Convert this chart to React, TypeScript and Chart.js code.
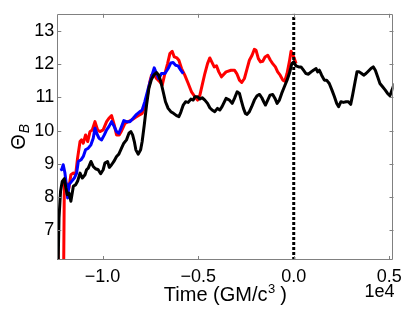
import React, { useEffect, useRef } from 'react';
import { Chart, registerables } from 'chart.js';

Chart.register(...registerables);

// Axis limits (x in units of 1e4 GM/c^3)
const X_MIN = -1.237;
const X_MAX = 0.522;
const Y_MIN = 6.1;
const Y_MAX = 13.52;
const xTicks = [-1.0, -0.5, 0.0, 0.5];
const yTicks = [7, 8, 9, 10, 11, 12, 13];
const xTitle = 'Time (GM/c';
const xTitleSup = '3';
const xTitleEnd = ' )';
const yTitle = 'Θ';
const yTitleSub = 'B';
const offsetText = '1e4';

// Red series
const redX = [-1.236, -1.228, -1.212, -1.205, -1.200, -1.176, -1.166, -1.153, -1.141, -1.131, -1.118, -1.110, -1.101, -1.089, -1.078, -1.066, -1.054, -1.040, -1.026, -1.014, -0.997, -0.979, -0.967, -0.953, -0.939, -0.927, -0.913, -0.901, -0.883, -0.866, -0.848, -0.831, -0.814, -0.793, -0.779, -0.765, -0.753, -0.744, -0.732, -0.718, -0.700, -0.688, -0.674, -0.660, -0.648, -0.636, -0.625, -0.611, -0.601, -0.587, -0.570, -0.552, -0.535, -0.517, -0.503, -0.491, -0.479, -0.465, -0.451, -0.439, -0.427, -0.416, -0.404, -0.392, -0.378, -0.354, -0.328, -0.310, -0.298, -0.284, -0.272, -0.258, -0.244, -0.232, -0.218, -0.206, -0.197, -0.185, -0.174, -0.162, -0.150, -0.136, -0.122, -0.110, -0.096, -0.084, -0.071, -0.057, -0.047, -0.035, -0.023, -0.014, -0.005, 0.003, 0.012];
const redY = [7.3, 5.0, 5.0, 5.0, 8.5, 8.27, 8.67, 8.72, 8.67, 9.17, 9.67, 9.72, 9.62, 9.87, 9.67, 9.97, 10.02, 10.27, 10.02, 9.97, 10.02, 10.27, 10.37, 10.45, 10.17, 9.87, 9.87, 9.99, 10.22, 10.27, 10.32, 10.39, 10.45, 10.52, 10.72, 11.07, 11.47, 11.67, 11.72, 11.57, 11.47, 11.37, 11.72, 12.02, 12.32, 12.39, 12.22, 12.19, 12.12, 11.87, 11.67, 11.42, 11.17, 11.02, 10.92, 11.07, 11.37, 11.72, 12.02, 12.19, 12.05, 11.92, 11.95, 11.77, 11.62, 11.77, 11.82, 11.82, 11.72, 11.52, 11.45, 11.57, 11.87, 12.12, 12.27, 12.45, 12.42, 12.17, 12.07, 12.09, 12.22, 12.27, 12.12, 12.02, 11.92, 11.77, 11.67, 11.52, 11.49, 11.72, 12.07, 12.39, 12.29, 12.17, 12.02];

// Blue series
const blueX = [-1.218, -1.214, -1.206, -1.197, -1.188, -1.183, -1.176, -1.162, -1.148, -1.136, -1.127, -1.113, -1.101, -1.089, -1.075, -1.061, -1.049, -1.040, -1.031, -1.019, -1.005, -0.991, -0.979, -0.967, -0.953, -0.939, -0.927, -0.915, -0.901, -0.889, -0.875, -0.857, -0.840, -0.822, -0.805, -0.793, -0.779, -0.761, -0.744, -0.730, -0.718, -0.706, -0.692, -0.674, -0.657, -0.643, -0.631, -0.618, -0.605, -0.591, -0.578];
const blueY = [8.87, 8.82, 8.97, 8.72, 8.27, 7.97, 8.37, 8.47, 8.57, 8.72, 9.07, 9.12, 9.22, 9.42, 9.47, 9.57, 9.77, 10.07, 9.92, 9.77, 9.72, 9.87, 10.02, 10.12, 10.27, 10.12, 9.97, 9.92, 10.12, 10.30, 10.27, 10.27, 10.37, 10.49, 10.57, 10.62, 10.87, 11.27, 11.62, 11.89, 11.72, 11.57, 11.72, 11.72, 11.87, 12.04, 12.05, 11.97, 11.95, 11.82, 11.72];

// Black series
const blackX = [-1.236, -1.228, -1.220, -1.211, -1.200, -1.192, -1.185, -1.176, -1.166, -1.153, -1.141, -1.131, -1.118, -1.106, -1.092, -1.084, -1.075, -1.061, -1.049, -1.037, -1.023, -1.010, -0.997, -0.988, -0.974, -0.965, -0.953, -0.941, -0.927, -0.915, -0.901, -0.889, -0.875, -0.862, -0.852, -0.843, -0.834, -0.826, -0.814, -0.801, -0.793, -0.782, -0.770, -0.758, -0.744, -0.730, -0.718, -0.706, -0.695, -0.683, -0.671, -0.657, -0.643, -0.629, -0.613, -0.601, -0.591, -0.578, -0.566, -0.552, -0.538, -0.526, -0.517, -0.503, -0.491, -0.479, -0.465, -0.451, -0.439, -0.427, -0.413, -0.399, -0.387, -0.375, -0.354, -0.336, -0.322, -0.310, -0.296, -0.284, -0.275, -0.263, -0.253, -0.244, -0.232, -0.220, -0.206, -0.192, -0.179, -0.167, -0.157, -0.148, -0.136, -0.124, -0.110, -0.098, -0.087, -0.075, -0.063, -0.049, -0.035, -0.023, -0.010, 0.000, 0.012, 0.026, 0.038, 0.051, 0.064, 0.077, 0.091, 0.103, 0.117, 0.125, 0.134, 0.146, 0.160, 0.172, 0.186, 0.200, 0.213, 0.225, 0.235, 0.247, 0.260, 0.274, 0.286, 0.298, 0.308, 0.321, 0.331, 0.343, 0.355, 0.366, 0.378, 0.390, 0.404, 0.416, 0.427, 0.439, 0.451, 0.465, 0.479, 0.491, 0.503, 0.514, 0.526, 0.535];
const blackY = [5.0, 7.37, 8.17, 8.47, 8.55, 8.27, 8.07, 8.12, 7.87, 8.32, 8.37, 8.47, 8.72, 8.57, 8.67, 8.82, 8.87, 9.07, 8.92, 8.85, 8.82, 8.70, 8.82, 9.02, 9.07, 8.89, 8.97, 9.07, 9.22, 9.29, 9.47, 9.62, 9.72, 9.92, 9.97, 9.87, 9.67, 9.42, 9.29, 9.42, 9.67, 10.17, 10.77, 11.27, 11.55, 11.69, 11.75, 11.67, 11.47, 11.17, 10.87, 10.67, 10.57, 10.52, 10.45, 10.42, 10.55, 10.77, 10.87, 10.85, 10.95, 10.92, 11.02, 11.02, 10.95, 10.99, 10.92, 10.82, 10.69, 10.62, 10.57, 10.67, 10.62, 10.72, 10.97, 10.92, 10.82, 10.97, 11.17, 11.12, 10.92, 10.67, 10.52, 10.49, 10.57, 10.72, 10.92, 11.05, 11.09, 10.99, 10.87, 10.77, 10.92, 11.07, 11.09, 10.97, 10.82, 10.92, 11.12, 11.32, 11.52, 11.72, 12.02, 12.07, 11.95, 11.92, 11.92, 11.82, 11.72, 11.70, 11.77, 11.82, 11.87, 11.77, 11.82, 11.67, 11.52, 11.52, 11.42, 11.22, 11.02, 10.82, 10.72, 10.87, 10.85, 10.87, 10.87, 10.79, 11.07, 11.47, 11.77, 11.77, 11.72, 11.67, 11.72, 11.79, 11.87, 11.92, 11.82, 11.62, 11.42, 11.32, 11.22, 11.12, 11.05, 11.22, 11.42, 11.47];

// Vertical dotted marker at t = 0
const markerX = [0.0, 0.0];
const markerY = [Y_MIN, Y_MAX];

const FONT = '"Liberation Sans", Arial, Helvetica, sans-serif';
const FRAME = '#808080';

const toPts = (xs: number[], ys: number[]) => xs.map((x, i) => ({ x, y: ys[i] }));

const fmtX = (v: number) => {
  const s = Math.abs(v).toFixed(1);
  return v < -1e-9 ? '\u2212' + s : s;
};

const decorPlugin = {
  id: 'decor',
  afterDatasetsDraw(chart: any) {
    const { ctx, chartArea: a, scales } = chart;
    const xs = scales.x;
    const ys = scales.y;
    ctx.save();
    ctx.strokeStyle = FRAME;
    ctx.lineWidth = 1;
    ctx.beginPath();
    ctx.rect(Math.round(a.left) + 0.5, Math.round(a.top) + 0.5, Math.round(a.right - a.left) - 1, Math.round(a.bottom - a.top) - 1);
    ctx.stroke();
    const tl = 4;
    ctx.beginPath();
    for (const v of xTicks) {
      const px = Math.round(xs.getPixelForValue(v)) + 0.5;
      ctx.moveTo(px, a.bottom);
      ctx.lineTo(px, a.bottom - tl);
      ctx.moveTo(px, a.top);
      ctx.lineTo(px, a.top + tl);
    }
    for (const v of yTicks) {
      const py = Math.round(ys.getPixelForValue(v)) + 0.5;
      ctx.moveTo(a.left, py);
      ctx.lineTo(a.left + tl, py);
      ctx.moveTo(a.right, py);
      ctx.lineTo(a.right - tl, py);
    }
    ctx.stroke();
    ctx.restore();
  },
  afterDraw(chart: any) {
    const { ctx, chartArea: a } = chart;
    ctx.save();
    ctx.fillStyle = '#000';
    ctx.textBaseline = 'alphabetic';
    // x title
    const main = '20px ' + FONT;
    const sup = '13px ' + FONT;
    ctx.font = main;
    const w1 = ctx.measureText(xTitle).width;
    const w3 = ctx.measureText(xTitleEnd).width;
    ctx.font = sup;
    const w2 = ctx.measureText(xTitleSup).width;
    const total = w1 + w2 + w3;
    let x0 = (a.left + a.right) / 2 - total / 2;
    const by = 301;
    ctx.textAlign = 'left';
    ctx.font = main;
    ctx.fillText(xTitle, x0, by);
    ctx.font = sup;
    ctx.fillText(xTitleSup, x0 + w1 + 0.5, by - 8);
    ctx.font = main;
    ctx.fillText(xTitleEnd, x0 + w1 + w2, by);
    // offset text
    ctx.font = '18px ' + FONT;
    ctx.textAlign = 'right';
    ctx.fillText(offsetText, a.right + 1, 297);
    // y title
    ctx.translate(25, (a.top + a.bottom) / 2);
    ctx.rotate(-Math.PI / 2);
    const tf = '20px ' + FONT;
    const sf = 'italic 14px ' + FONT;
    ctx.font = tf;
    const tw = ctx.measureText(yTitle).width;
    ctx.font = sf;
    const sw = ctx.measureText(yTitleSub).width;
    const start = -(tw + sw + 1) / 2;
    ctx.textAlign = 'left';
    ctx.font = tf;
    ctx.fillText(yTitle, start, 0);
    ctx.font = sf;
    ctx.fillText(yTitleSub, start + tw + 1, 4);
    ctx.restore();
  },
};

export default function App() {
  const ref = useRef<HTMLCanvasElement | null>(null);
  useEffect(() => {
    if (!ref.current) return;
    const line = (data: any, color: string, order: number, extra: any = {}) => ({
      data,
      borderColor: color,
      backgroundColor: color,
      borderWidth: 3,
      pointRadius: 0,
      tension: 0,
      fill: false,
      order,
      borderJoinStyle: 'round',
      ...extra,
    });
    const chart = new Chart(ref.current, {
      type: 'line',
      data: {
        datasets: [
          line(toPts(markerX, markerY), '#000000', 0, { borderDash: [3, 2], borderWidth: 3 }),
          line(toPts(blackX, blackY), '#000000', 1),
          line(toPts(blueX, blueY), '#0000ff', 2),
          line(toPts(redX, redY), '#ff0000', 3),
        ] as any,
      },
      options: {
        animation: false,
        responsive: false,
        maintainAspectRatio: false,
        events: [],
        layout: { padding: { left: 0, top: 12, right: 21.5, bottom: 0 } },
        plugins: { legend: { display: false }, tooltip: { enabled: false } },
        scales: {
          x: {
            type: 'linear',
            min: X_MIN,
            max: X_MAX,
            afterBuildTicks: (s: any) => { s.ticks = xTicks.map((v) => ({ value: v })); },
            afterFit: (s: any) => { s.height = 53; },
            grid: { display: false, drawTicks: false, tickLength: 0 },
            border: { display: false },
            ticks: {
              autoSkip: false,
              maxRotation: 0,
              padding: 6,
              color: '#000',
              font: { family: FONT, size: 18 },
              callback: (v: any) => fmtX(Number(v)),
            },
          },
          y: {
            type: 'linear',
            min: Y_MIN,
            max: Y_MAX,
            afterBuildTicks: (s: any) => { s.ticks = yTicks.map((v) => ({ value: v })); },
            afterFit: (s: any) => { s.width = 57.3; },
            grid: { display: false, drawTicks: false, tickLength: 0 },
            border: { display: false },
            ticks: {
              autoSkip: false,
              padding: 3,
              color: '#000',
              font: { family: FONT, size: 18 },
              callback: (v: any) => String(v),
            },
          },
        },
      },
      plugins: [decorPlugin],
    } as any);
    return () => chart.destroy();
  }, []);
  return (
    <div style={{ position: 'fixed', left: 0, top: 0, width: 415, height: 313, background: '#fff' }}>
      <canvas ref={ref} width={415} height={313} style={{ display: 'block' }} />
    </div>
  );
}
